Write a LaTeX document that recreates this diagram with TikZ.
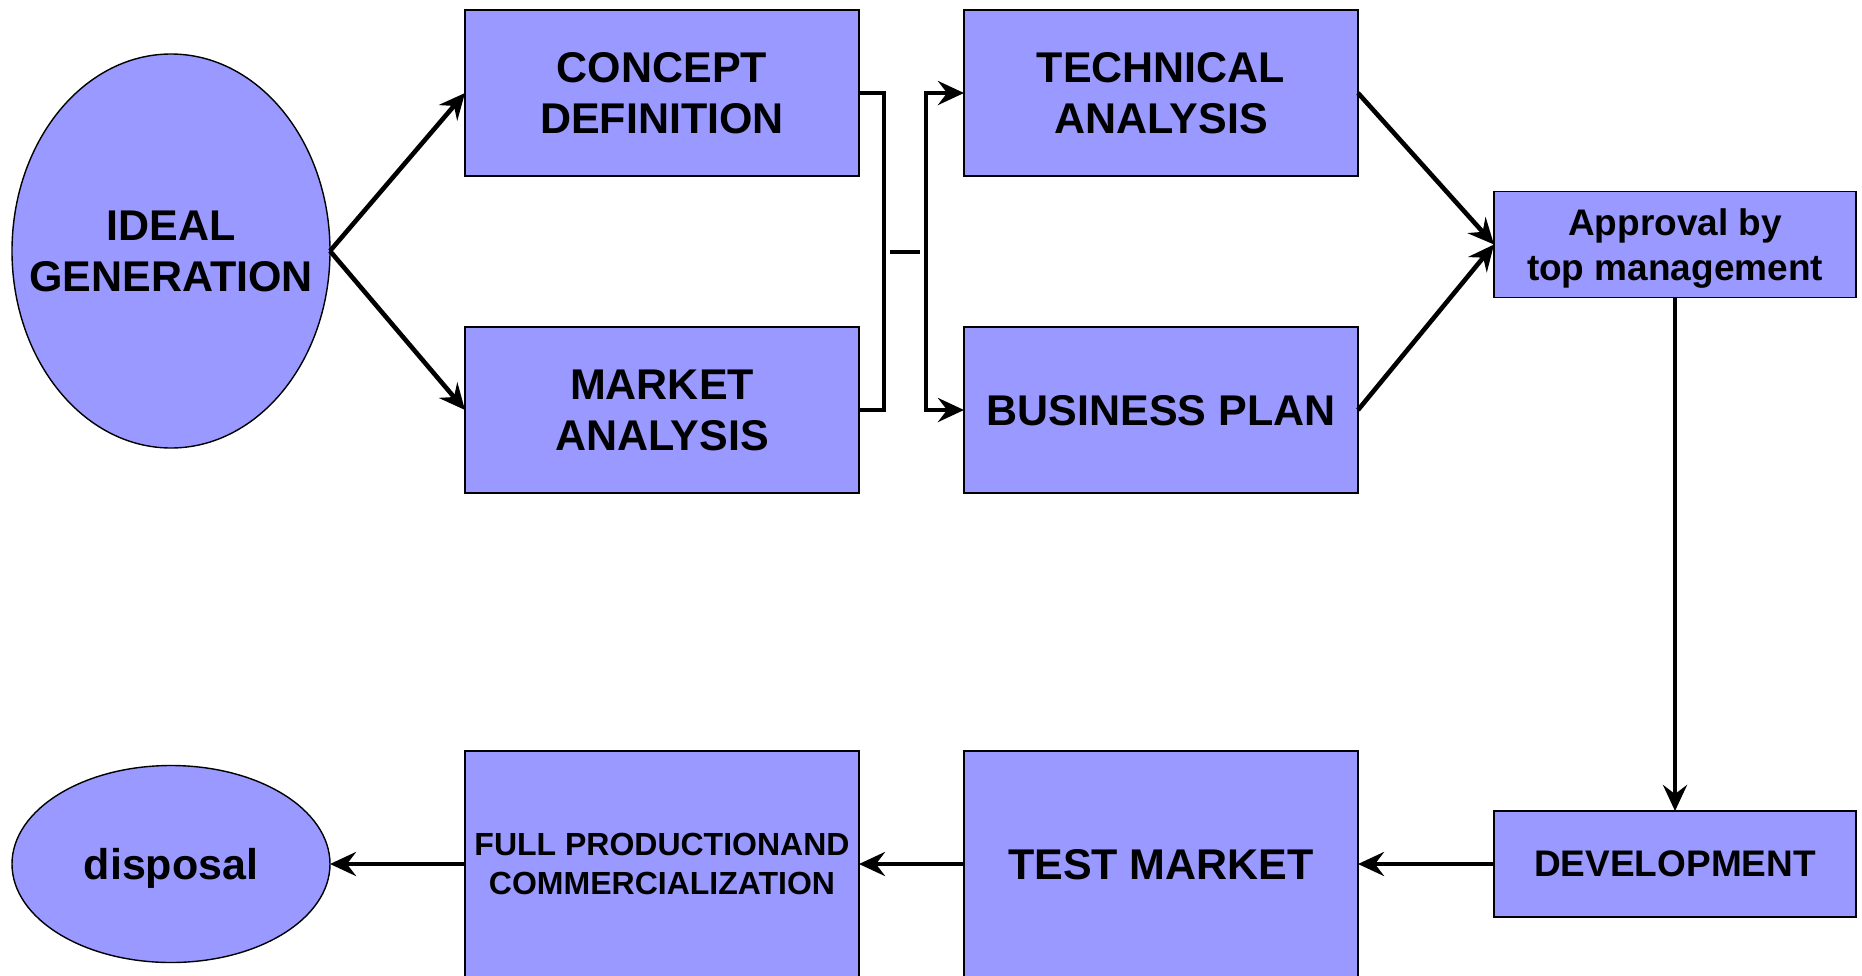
\documentclass[tikz,border=0pt]{standalone}
\usepackage{fontspec}
\setmainfont{Liberation Sans}
\usetikzlibrary{shapes,arrows.meta}
\definecolor{boxblue}{HTML}{9999FF}

\begin{document}
\begin{tikzpicture}[x=0.5pt, y=-0.5pt, line width=2.3pt,
        >={Stealth[length=13pt,width=12pt,inset=4.5pt]},
        main/.style = {draw, line width=0.7pt, fill=boxblue, inner sep=0pt, outer sep=0pt, align=center, text depth=0pt, font=\bfseries\fontsize{21.5}{25.5}\selectfont},
        box/.style = {main, rectangle, minimum width=197pt, minimum height=83pt},
        oval/.style = {main, ellipse, inner xsep=-30pt, minimum width=159pt},
        small/.style = {main, rectangle, minimum width=181pt, minimum height=53pt, font=\bfseries\fontsize{18.5}{22.5}\selectfont}]
        \useasboundingbox (0,0) rectangle (1862,975);
        \node[oval, minimum height=197pt] (ideal) at (171,251) {IDEAL\\GENERATION};
        \node[box] (concept) at (662,93) {CONCEPT\\DEFINITION};
        \node[box] [node distance=158.5pt, below of=concept] (market) {MARKET\\ANALYSIS};
        \node[box] [node distance=249.5pt, right of=concept] (technical) {TECHNICAL\\ANALYSIS};
        \node[box] [node distance=249.5pt, right of=market] (business) {BUSINESS PLAN};
        \node[small] (approval) at (1675,244.5) {Approval by\\top management};
        \node[small] [node distance=309.75pt, below of=approval] (development) {DEVELOPMENT};
        \node[box, minimum height=113pt] [node distance=257pt, left of=development] (test) {TEST MARKET};
        \node[box, minimum height=113pt, font=\bfseries\fontsize{16}{19.5}\selectfont] [node distance=249.5pt, left of=test] (full) {FULL PRODUCTIONAND\\COMMERCIALIZATION};
        \node[oval, minimum height=98.5pt] [node distance=245.5pt, left of=full] (disposal) {disposal};
        \coordinate (gapl) at (890,252);
        \coordinate (gapr) at (920,252);
        \draw[->] (ideal.east) -- (concept.west);
        \draw[->] (ideal.east) -- (market.west);
        \draw (concept.east) -- ++(25,0) |- (market.east);
        \draw (gapl) -- (gapr);
        \draw[<->] (technical.west) -- ++(-38,0) |- (business.west);
        \draw[->] (technical.east) -- (approval.west);
        \draw[->] (business.east) -- (approval.west);
        \draw[->] (approval.south) -- (development.north);
        \draw[->] (development.west) -- (test.east);
        \draw[->] (test.west) -- (full.east);
        \draw[->] (full.west) -- (disposal.east);
    \end{tikzpicture}
\end{document}
